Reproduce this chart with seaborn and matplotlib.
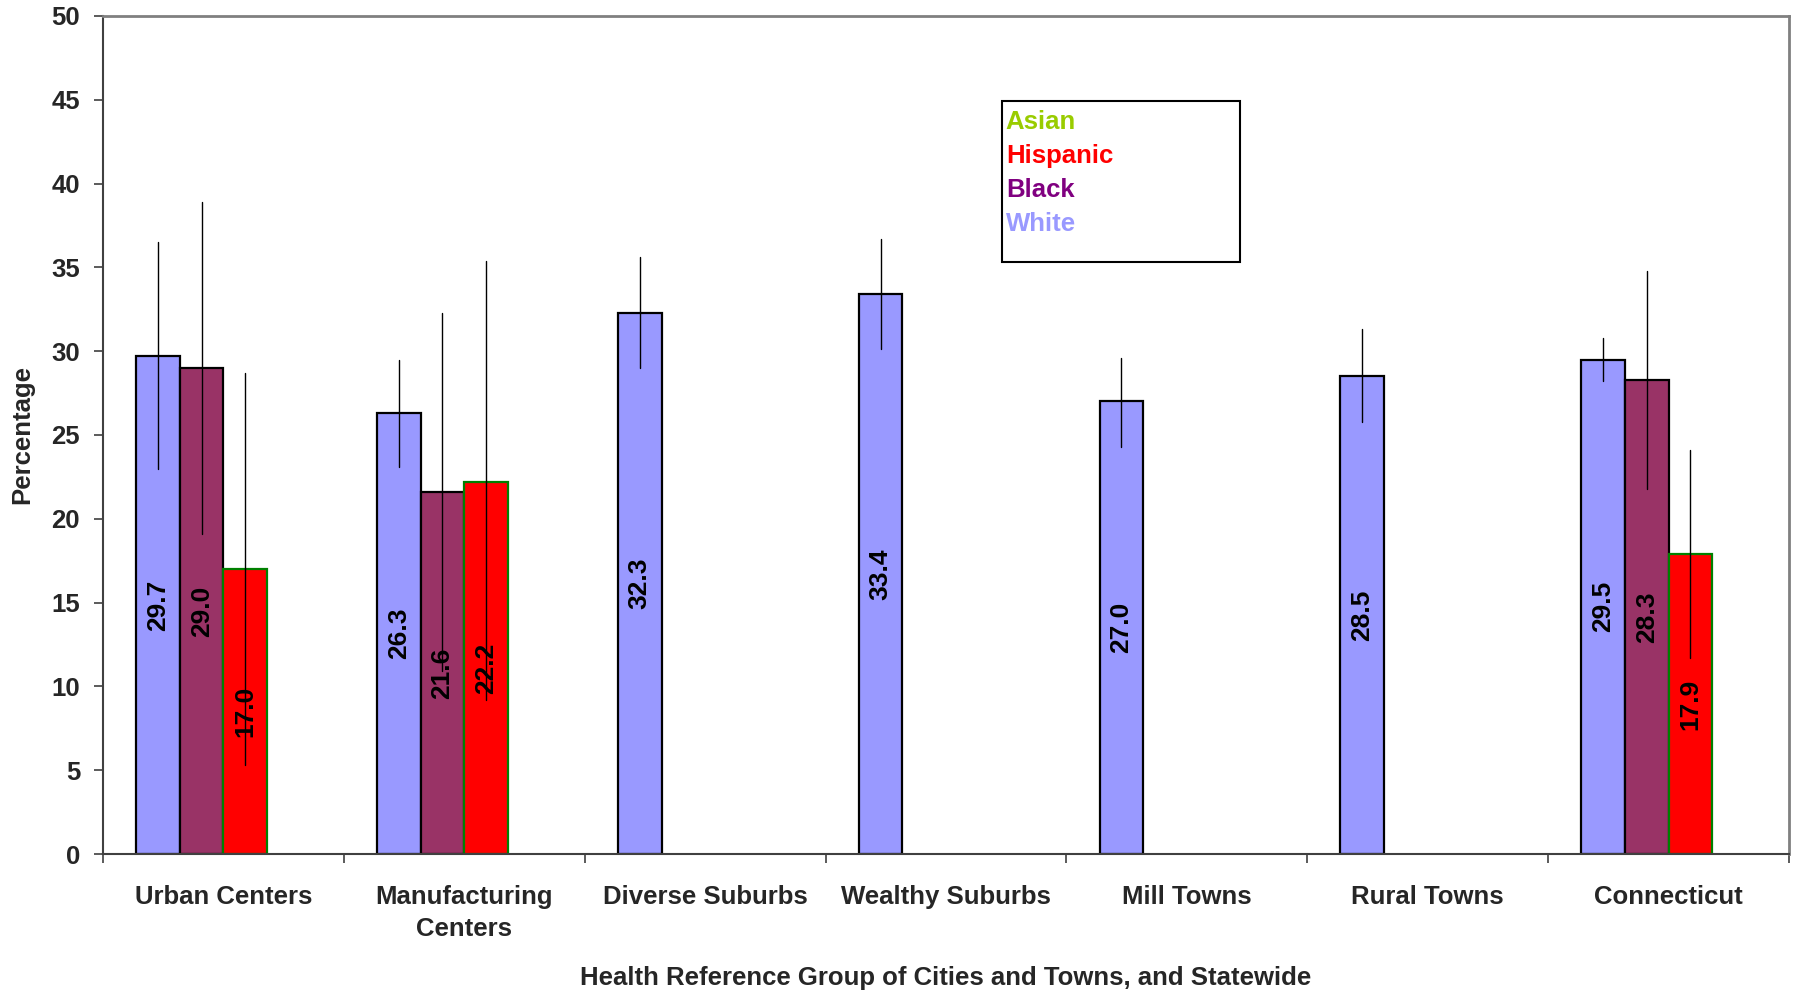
import numpy as np
import pandas as pd
import matplotlib
matplotlib.use("Agg")
import matplotlib.pyplot as plt
import seaborn as sns
from matplotlib.patches import Patch, Rectangle
from matplotlib.ticker import FixedLocator

# ---------------- data ----------------
categories = ["Urban Centers", "Manufacturing\nCenters", "Diverse Suburbs",
              "Wealthy Suburbs", "Mill Towns", "Rural Towns", "Connecticut"]
groups = ["White", "Black", "Hispanic", "Asian"]          # bar order in each group
legend_order = ["Asian", "Hispanic", "Black", "White"]

nan = np.nan
white = [29.7, 26.3, 32.3, 33.4, 27.0, 28.5, 29.5]
white_lo = [23.0, 23.1, 29.0, 30.1, 24.3, 25.8, 28.2]
white_hi = [36.5, 29.5, 35.6, 36.7, 29.6, 31.3, 30.8]

black = [29.0, 21.6, nan, nan, nan, nan, 28.3]
black_lo = [19.1, 10.9, nan, nan, nan, nan, 21.8]
black_hi = [38.9, 32.3, nan, nan, nan, nan, 34.8]

hispanic = [17.0, 22.2, nan, nan, nan, nan, 17.9]
hispanic_lo = [5.3, 9.2, nan, nan, nan, nan, 11.7]
hispanic_hi = [28.7, 35.4, nan, nan, nan, nan, 24.1]

asian = [nan] * 7
asian_lo = [nan] * 7
asian_hi = [nan] * 7

yticks = [0, 5, 10, 15, 20, 25, 30, 35, 40, 45, 50]

bar_colors = {"White": "#9999FF", "Black": "#993366", "Hispanic": "#FF0000", "Asian": "#99CC00"}
edge_colors = {"White": "black", "Black": "black", "Hispanic": "#008000", "Asian": "black"}
text_colors = {"Asian": "#99CC00", "Hispanic": "#FF0000", "Black": "#800080", "White": "#9999FF"}

# long table: each bar = value + lower + upper; median gives bar, min-max gives interval
series = {
    "White": (white, white_lo, white_hi),
    "Black": (black, black_lo, black_hi),
    "Hispanic": (hispanic, hispanic_lo, hispanic_hi),
    "Asian": (asian, asian_lo, asian_hi),
}
rows = []
for g, (v, lo, hi) in series.items():
    for c, a, b, d in zip(categories, v, lo, hi):
        if np.isnan(a):
            continue
        for val in (a, b, d):
            rows.append({"category": c, "group": g, "pct": val})
df = pd.DataFrame(rows)

# ---------------- style ----------------
sns.set_theme(style="white")
plt.rcParams["font.family"] = ["Liberation Sans", "DejaVu Sans"]
plt.rcParams["font.weight"] = "bold"
plt.rcParams["axes.labelweight"] = "bold"

FS = 18.5

fig = plt.figure(figsize=(17.98, 9.92), dpi=100)
ax = fig.add_axes([0.0573, 0.139, 0.9377, 0.845])

sns.barplot(data=df, x="category", y="pct", hue="group",
            order=categories, hue_order=groups, palette=bar_colors,
            estimator="median", errorbar=("pi", 100), capsize=0,
            err_kws={"color": "black", "linewidth": 1.0},
            width=0.725, saturation=1, edgecolor="black", linewidth=1.6,
            legend=False, ax=ax)

# per-group edge colour and value labels
for cont in ax.containers:
    if len(cont.patches) == 0:
        continue
    fc = cont.patches[0].get_facecolor()
    for g, col in bar_colors.items():
        if np.allclose(fc[:3], matplotlib.colors.to_rgb(col)):
            for p in cont.patches:
                p.set_edgecolor(edge_colors[g])
    ax.bar_label(cont, fmt="%.1f", label_type="center", rotation=90,
                 fontsize=19, fontweight="bold", color="black")

ax.set_xlim(-0.5, len(categories) - 0.5)
ax.set_ylim(0, 50)
ax.set_yticks(yticks)
ax.set_yticklabels([str(t) for t in yticks], fontsize=FS, fontweight="bold")

ax.set_xticks(range(len(categories)))
ax.set_xticklabels(categories, fontsize=FS, fontweight="bold", linespacing=1.42)
ax.xaxis.set_minor_locator(FixedLocator(np.arange(-0.5, len(categories), 1.0)))
ax.tick_params(axis="x", which="major", length=0, pad=22)
ax.tick_params(axis="x", which="minor", bottom=True, length=6.5, width=1.2,
               color="#404040", direction="out")
ax.tick_params(axis="y", which="major", left=True, length=6.5, width=1.2,
               color="#404040", direction="out", pad=10)

ax.set_xlabel("Health Reference Group of Cities and Towns, and Statewide",
              fontsize=FS, fontweight="bold", labelpad=18)
ax.set_ylabel("Percentage", fontsize=FS, fontweight="bold", labelpad=12)

for side in ("left", "bottom"):
    ax.spines[side].set_color("#404040")
    ax.spines[side].set_linewidth(1.5)
for side in ("top", "right"):
    ax.spines[side].set_visible(True)
    ax.spines[side].set_color("#808080")
    ax.spines[side].set_linewidth(2.0)
ax.grid(False)

# legend: coloured text only, inside a box
ax.add_patch(Rectangle((0.5332, 0.7064), 0.1412, 0.1921, transform=ax.transAxes,
                       fill=False, edgecolor="black", linewidth=1.5, zorder=5))
handles = [Patch(visible=False) for _ in legend_order]
ax.legend(handles, legend_order, loc="upper left", bbox_to_anchor=(0.5332, 0.892),
          frameon=False, handlelength=0, handletextpad=0, borderpad=0.15,
          borderaxespad=0, labelspacing=0.38, prop={"size": FS, "weight": "bold"},
          labelcolor=[text_colors[g] for g in legend_order])

fig.savefig("out.png", dpi=100)
